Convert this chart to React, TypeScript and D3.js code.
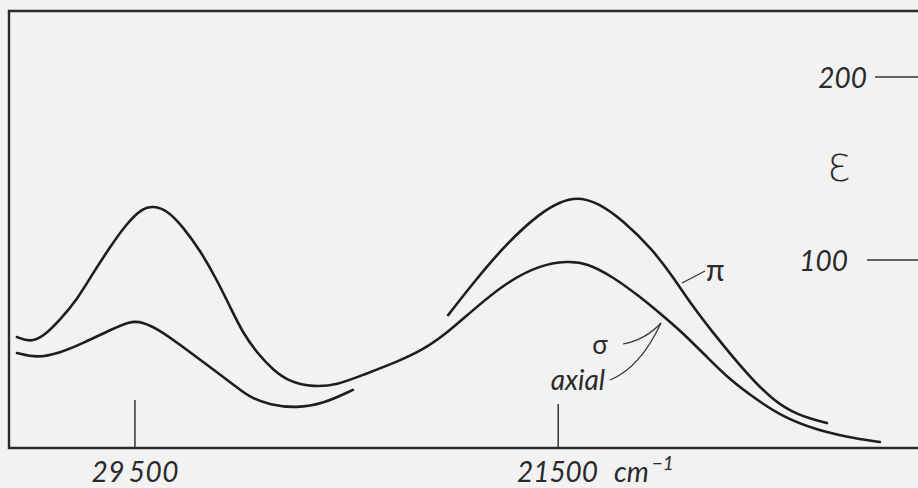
import React, { useEffect, useRef } from 'react';
import * as d3 from 'd3';

// wavenumber (cm-1) vs extinction coefficient
// sigma / axial: one continuous trace
const sigmaWave = [31730, 31480, 31240, 30920, 30600, 30290, 29970, 29650, 29350, 29160, 28890, 28590, 28270, 27950, 27700, 27460, 27190, 26890, 26570, 26130, 25680, 25190, 24550, 24060, 23600, 23110, 22470, 21840, 21330, 20960, 20460, 19950, 19580, 19140, 18690, 18250, 17740, 17250, 16610, 16040, 15420];
const sigmaEps = [57.9, 55.2, 57.9, 67.2, 78.1, 92.9, 107.1, 120.2, 128.4, 129.5, 127.3, 118.0, 105.4, 89.1, 74.3, 60.1, 49.2, 39.9, 33.3, 30.6, 31.7, 37.2, 44.3, 50.8, 60.1, 72.7, 88.0, 97.3, 99.4, 98.4, 90.7, 79.8, 71.0, 60.1, 47.0, 34.4, 23.5, 14.2, 7.1, 3.3, 0.5];

// pi: high-energy band
const piLeftWave = [31730, 31350, 30920, 30480, 29970, 29590, 29350, 29030, 28590, 28080, 27510, 27330, 26950, 26440, 25950, 25380];
const piLeftEps = [49.2, 46.4, 49.2, 54.6, 61.7, 66.7, 66.1, 61.7, 52.5, 41.5, 29.0, 25.1, 20.8, 19.1, 21.3, 29.0];

// pi: low-energy band
const piRightWave = [23580, 23110, 22470, 21840, 21470, 21150, 20770, 20280, 19710, 19330, 18950, 18570, 18200, 17820, 17440, 16990, 16420];
const piRightEps = [69.9, 87.4, 109.3, 125.7, 131.7, 134.4, 131.7, 121.8, 105.5, 90.7, 74.3, 60.1, 47.0, 34.4, 23.5, 15.3, 10.9];

const xTicks = [29500, 21500];
const xTickLabels = ['29\u2009500', '21500'];
const yTicks = [200, 100];

const W = 918;
const H = 488;
const frame = { left: 9, top: 11, right: 918, bottom: 448 };
const ink = '#1e1e1e';
const font = 'Lato, "DejaVu Sans", sans-serif';

export default function App() {
  const ref = useRef<SVGSVGElement | null>(null);

  useEffect(() => {
    const svg = d3.select(ref.current);
    svg.selectAll('*').remove();

    const x = d3.scaleLinear().domain([31880, 14700]).range([frame.left, frame.right]);
    const y = d3.scaleLinear().domain([0, 200]).range([443, 77]);

    svg.append('rect').attr('width', W).attr('height', H).attr('fill', '#f2f2f2');

    // frame (open on the right)
    svg.append('path')
      .attr('d', `M${frame.right},${frame.top}H${frame.left}V${frame.bottom}H${frame.right}`)
      .attr('fill', 'none').attr('stroke', '#2a2a2a').attr('stroke-width', 2.4);

    const line = d3.line<[number, number]>()
      .x(d => x(d[0])).y(d => y(d[1]))
      .curve(d3.curveBasis);

    const series = [
      d3.zip(sigmaWave, sigmaEps),
      d3.zip(piLeftWave, piLeftEps),
      d3.zip(piRightWave, piRightEps),
    ];
    series.forEach(s => {
      svg.append('path')
        .attr('d', line(s as [number, number][]))
        .attr('fill', 'none').attr('stroke', ink)
        .attr('stroke-width', 2.6).attr('stroke-linecap', 'round');
    });

    // bottom ticks
    xTicks.forEach((t, i) => {
      svg.append('line')
        .attr('x1', x(t)).attr('x2', x(t))
        .attr('y1', frame.bottom - (i === 0 ? 48 : 44)).attr('y2', frame.bottom)
        .attr('stroke', '#333').attr('stroke-width', 1.5);
    });
    const lab = svg.append('g').attr('font-family', font).attr('font-style', 'italic')
      .attr('fill', '#2a2a2a').attr('font-size', 28);
    lab.append('text').attr('x', x(xTicks[0])).attr('y', 482).attr('text-anchor', 'middle')
      .attr('textLength', 87).text(xTickLabels[0]);
    lab.append('text').attr('x', 517).attr('y', 482).attr('textLength', 81).text(xTickLabels[1]);
    const cm = lab.append('text').attr('x', 614).attr('y', 482);
    cm.append('tspan').text('cm');
    cm.append('tspan').attr('dx', 3).attr('dy', -12).attr('font-size', 19).text('\u22121');

    // right ticks
    yTicks.forEach((t, i) => {
      svg.append('line')
        .attr('x1', i === 0 ? 875 : 867).attr('x2', frame.right)
        .attr('y1', y(t)).attr('y2', y(t))
        .attr('stroke', '#333').attr('stroke-width', 1.5);
      lab.append('text')
        .attr('x', i === 0 ? 867 : 848).attr('y', y(t) + 11)
        .attr('text-anchor', 'end').text(String(t));
    });

    svg.append('text').attr('x', 839).attr('y', 181)
      .attr('text-anchor', 'middle').attr('font-family', '"DejaVu Sans", sans-serif')
      .attr('font-weight', 300).attr('font-size', 38).attr('fill', '#2a2a2a').text('\u0190');

    // curve labels
    lab.append('text').attr('x', 706).attr('y', 281).attr('font-size', 30).attr('font-style', 'normal').text('\u03C0');
    lab.append('path').attr('d', 'M682,283 L705,271').attr('fill', 'none').attr('stroke', '#333').attr('stroke-width', 1.2);

    lab.append('text').attr('x', 600).attr('y', 354).attr('text-anchor', 'middle').attr('font-size', 26).attr('font-style', 'normal').text('\u03C3');
    lab.append('text').attr('x', 605).attr('y', 390).attr('text-anchor', 'end').text('axial');
    lab.append('path').attr('d', 'M623,344 Q645,340 661,323').attr('fill', 'none').attr('stroke', '#333').attr('stroke-width', 1.2);
    lab.append('path').attr('d', 'M610,380 Q640,368 661,323').attr('fill', 'none').attr('stroke', '#333').attr('stroke-width', 1.2);
  }, []);

  return (
    <svg ref={ref} width={W} height={H} style={{ position: 'absolute', left: 0, top: 0 }} />
  );
}
